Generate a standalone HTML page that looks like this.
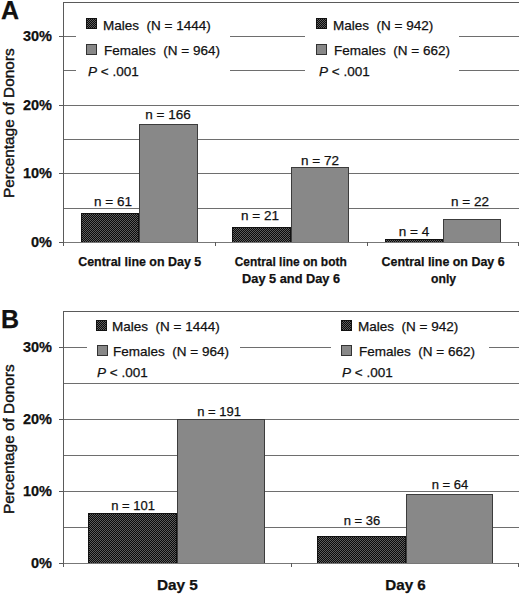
<!DOCTYPE html>
<html><head><meta charset="utf-8"><style>
html,body{margin:0;padding:0;background:#fff;}
svg{display:block;font-family:"Liberation Sans", sans-serif;}
text{stroke:#111;stroke-width:0.25px;}
</style></head><body>
<svg width="520" height="595" viewBox="0 0 520 595" shape-rendering="crispEdges">
<defs>
<pattern id="chk" width="2" height="2" patternUnits="userSpaceOnUse">
<rect width="2" height="2" fill="#0a0a0a"/><rect width="1" height="1" fill="#5c5c5c"/><rect x="1" y="1" width="1" height="1" fill="#5c5c5c"/>
</pattern>
</defs>
<rect width="520" height="595" fill="#fff"/>
<rect x="63" y="208" width="456" height="1" fill="#6e6e6e"/>
<rect x="63" y="173" width="456" height="1" fill="#6e6e6e"/>
<rect x="63" y="139" width="456" height="1" fill="#6e6e6e"/>
<rect x="63" y="105" width="456" height="1" fill="#6e6e6e"/>
<rect x="63" y="70" width="13" height="1" fill="#6e6e6e"/>
<rect x="230" y="70" width="75" height="1" fill="#6e6e6e"/>
<rect x="459" y="70" width="60" height="1" fill="#6e6e6e"/>
<rect x="63" y="36" width="13" height="1" fill="#6e6e6e"/>
<rect x="230" y="36" width="75" height="1" fill="#6e6e6e"/>
<rect x="459" y="36" width="60" height="1" fill="#6e6e6e"/>
<rect x="59" y="242" width="4" height="1" fill="#5a5a5a"/>
<rect x="59" y="173" width="4" height="1" fill="#5a5a5a"/>
<rect x="59" y="105" width="4" height="1" fill="#5a5a5a"/>
<rect x="59" y="36" width="4" height="1" fill="#5a5a5a"/>
<rect x="63" y="2" width="456" height="1" fill="#5a5a5a"/>
<rect x="81" y="213" width="58" height="29" fill="#111"/>
<rect x="82" y="214" width="56" height="28" fill="url(#chk)"/>
<rect x="139" y="124" width="59" height="118" fill="#3c3c3c"/>
<rect x="140" y="125" width="57" height="117" fill="#888"/>
<rect x="232" y="227" width="59" height="15" fill="#111"/>
<rect x="233" y="228" width="57" height="14" fill="url(#chk)"/>
<rect x="291" y="167" width="58" height="75" fill="#3c3c3c"/>
<rect x="292" y="168" width="56" height="74" fill="#888"/>
<rect x="385" y="239" width="58" height="3" fill="#111"/>
<rect x="386" y="240" width="56" height="2" fill="url(#chk)"/>
<rect x="443" y="219" width="58" height="23" fill="#3c3c3c"/>
<rect x="444" y="220" width="56" height="22" fill="#888"/>
<rect x="63" y="242" width="456" height="1" fill="#777"/>
<rect x="63" y="2" width="1" height="244" fill="#5a5a5a"/>
<rect x="215" y="242" width="1" height="4" fill="#5a5a5a"/>
<rect x="367" y="242" width="1" height="4" fill="#5a5a5a"/>
<rect x="518" y="242" width="1" height="4" fill="#5a5a5a"/>
<text x="113" y="206" font-size="13.5" font-weight="normal" text-anchor="middle" font-style="normal" fill="#111" >n = 61</text>
<text x="168" y="119" font-size="13.5" font-weight="normal" text-anchor="middle" font-style="normal" fill="#111" >n = 166</text>
<text x="260" y="220" font-size="13.5" font-weight="normal" text-anchor="middle" font-style="normal" fill="#111" >n = 21</text>
<text x="320" y="164.5" font-size="13.5" font-weight="normal" text-anchor="middle" font-style="normal" fill="#111" >n = 72</text>
<text x="414" y="236" font-size="13.5" font-weight="normal" text-anchor="middle" font-style="normal" fill="#111" >n = 4</text>
<text x="470" y="206" font-size="13.5" font-weight="normal" text-anchor="middle" font-style="normal" fill="#111" >n = 22</text>
<rect x="63" y="527" width="456" height="1" fill="#6e6e6e"/>
<rect x="63" y="491" width="456" height="1" fill="#6e6e6e"/>
<rect x="63" y="455" width="456" height="1" fill="#6e6e6e"/>
<rect x="63" y="419" width="456" height="1" fill="#6e6e6e"/>
<rect x="63" y="383" width="456" height="1" fill="#6e6e6e"/>
<rect x="63" y="347" width="24" height="1" fill="#6e6e6e"/>
<rect x="240" y="347" width="91" height="1" fill="#6e6e6e"/>
<rect x="489" y="347" width="30" height="1" fill="#6e6e6e"/>
<rect x="59" y="563" width="4" height="1" fill="#5a5a5a"/>
<rect x="59" y="491" width="4" height="1" fill="#5a5a5a"/>
<rect x="59" y="419" width="4" height="1" fill="#5a5a5a"/>
<rect x="59" y="347" width="4" height="1" fill="#5a5a5a"/>
<rect x="63" y="311" width="456" height="1" fill="#5a5a5a"/>
<rect x="88" y="513" width="89" height="50" fill="#111"/>
<rect x="89" y="514" width="87" height="49" fill="url(#chk)"/>
<rect x="177" y="419" width="88" height="144" fill="#3c3c3c"/>
<rect x="178" y="420" width="86" height="143" fill="#888"/>
<rect x="317" y="536" width="89" height="27" fill="#111"/>
<rect x="318" y="537" width="87" height="26" fill="url(#chk)"/>
<rect x="406" y="494" width="87" height="69" fill="#3c3c3c"/>
<rect x="407" y="495" width="85" height="68" fill="#888"/>
<rect x="63" y="563" width="456" height="1" fill="#777"/>
<rect x="63" y="311" width="1" height="256" fill="#5a5a5a"/>
<rect x="291" y="563" width="1" height="4" fill="#5a5a5a"/>
<rect x="518" y="563" width="1" height="4" fill="#5a5a5a"/>
<text x="133" y="509.5" font-size="13" font-weight="normal" text-anchor="middle" font-style="normal" fill="#111" >n = 101</text>
<text x="219" y="416" font-size="13" font-weight="normal" text-anchor="middle" font-style="normal" fill="#111" >n = 191</text>
<text x="362" y="525" font-size="13" font-weight="normal" text-anchor="middle" font-style="normal" fill="#111" >n = 36</text>
<text x="450" y="489" font-size="13" font-weight="normal" text-anchor="middle" font-style="normal" fill="#111" >n = 64</text>
<text x="52" y="247" font-size="14.5" font-weight="bold" text-anchor="end" font-style="normal" fill="#111" >0%</text>
<text x="52" y="178" font-size="14.5" font-weight="bold" text-anchor="end" font-style="normal" fill="#111" >10%</text>
<text x="52" y="110" font-size="14.5" font-weight="bold" text-anchor="end" font-style="normal" fill="#111" >20%</text>
<text x="52" y="41" font-size="14.5" font-weight="bold" text-anchor="end" font-style="normal" fill="#111" >30%</text>
<text x="52" y="568" font-size="14.5" font-weight="bold" text-anchor="end" font-style="normal" fill="#111" >0%</text>
<text x="52" y="496" font-size="14.5" font-weight="bold" text-anchor="end" font-style="normal" fill="#111" >10%</text>
<text x="52" y="424" font-size="14.5" font-weight="bold" text-anchor="end" font-style="normal" fill="#111" >20%</text>
<text x="52" y="352" font-size="14.5" font-weight="bold" text-anchor="end" font-style="normal" fill="#111" >30%</text>
<text x="1" y="19" font-size="25" font-weight="bold" text-anchor="start" font-style="normal" fill="#111" >A</text>
<text x="1" y="328" font-size="25" font-weight="bold" text-anchor="start" font-style="normal" fill="#111" >B</text>
<text x="0" y="0" font-size="15.4" font-weight="normal" text-anchor="start" font-style="normal" fill="#111" style="stroke-width:0.4px" transform="translate(14,198) rotate(-90)">Percentage of Donors</text>
<text x="0" y="0" font-size="15.4" font-weight="normal" text-anchor="start" font-style="normal" fill="#111" style="stroke-width:0.4px" transform="translate(14,514) rotate(-90)">Percentage of Donors</text>
<rect x="86" y="18" width="11" height="11" fill="#111"/>
<rect x="87" y="19" width="9" height="9" fill="url(#chk)"/>
<rect x="86" y="44" width="11" height="11" fill="#333"/>
<rect x="87" y="45" width="9" height="9" fill="#888"/>
<text x="103" y="30" font-size="13.5" font-weight="normal" text-anchor="start" font-style="normal" fill="#111" >Males&#160;&#160;(N = 1444)</text>
<text x="104" y="55" font-size="13.5" font-weight="normal" text-anchor="start" font-style="normal" fill="#111" >Females&#160;&#160;(N = 964)</text>
<text x="88" y="76" font-size="13.5" fill="#111"><tspan font-style="italic">P</tspan> &lt; .001</text>
<rect x="316" y="18" width="11" height="11" fill="#111"/>
<rect x="317" y="19" width="9" height="9" fill="url(#chk)"/>
<rect x="316" y="44" width="11" height="11" fill="#333"/>
<rect x="317" y="45" width="9" height="9" fill="#888"/>
<text x="333" y="30" font-size="13.5" font-weight="normal" text-anchor="start" font-style="normal" fill="#111" >Males&#160;&#160;(N = 942)</text>
<text x="334" y="55" font-size="13.5" font-weight="normal" text-anchor="start" font-style="normal" fill="#111" >Females&#160;&#160;(N = 662)</text>
<text x="319" y="76" font-size="13.5" fill="#111"><tspan font-style="italic">P</tspan> &lt; .001</text>
<rect x="96" y="320" width="11" height="11" fill="#111"/>
<rect x="97" y="321" width="9" height="9" fill="url(#chk)"/>
<rect x="97" y="345" width="11" height="11" fill="#333"/>
<rect x="98" y="346" width="9" height="9" fill="#888"/>
<text x="112" y="331" font-size="13.5" font-weight="normal" text-anchor="start" font-style="normal" fill="#111" >Males&#160;&#160;(N = 1444)</text>
<text x="113" y="356" font-size="13.5" font-weight="normal" text-anchor="start" font-style="normal" fill="#111" >Females&#160;&#160;(N = 964)</text>
<text x="97" y="376.5" font-size="13.5" fill="#111"><tspan font-style="italic">P</tspan> &lt; .001</text>
<rect x="341" y="320" width="11" height="11" fill="#111"/>
<rect x="342" y="321" width="9" height="9" fill="url(#chk)"/>
<rect x="341" y="345" width="11" height="11" fill="#333"/>
<rect x="342" y="346" width="9" height="9" fill="#888"/>
<text x="358" y="331" font-size="13.5" font-weight="normal" text-anchor="start" font-style="normal" fill="#111" >Males&#160;&#160;(N = 942)</text>
<text x="359" y="356" font-size="13.5" font-weight="normal" text-anchor="start" font-style="normal" fill="#111" >Females&#160;&#160;(N = 662)</text>
<text x="342" y="376.5" font-size="13.5" fill="#111"><tspan font-style="italic">P</tspan> &lt; .001</text>
<text x="139.7" y="266" font-size="13" font-weight="bold" text-anchor="middle" font-style="normal" fill="#111" textLength="123" lengthAdjust="spacingAndGlyphs">Central line on Day 5</text>
<text x="290.7" y="266" font-size="13" font-weight="bold" text-anchor="middle" font-style="normal" fill="#111" textLength="112" lengthAdjust="spacingAndGlyphs">Central line on both</text>
<text x="291.1" y="282.5" font-size="13" font-weight="bold" text-anchor="middle" font-style="normal" fill="#111" textLength="98" lengthAdjust="spacingAndGlyphs">Day 5 and Day 6</text>
<text x="443.1" y="266" font-size="13" font-weight="bold" text-anchor="middle" font-style="normal" fill="#111" textLength="123" lengthAdjust="spacingAndGlyphs">Central line on Day 6</text>
<text x="443.6" y="282.5" font-size="13" font-weight="bold" text-anchor="middle" font-style="normal" fill="#111" textLength="25" lengthAdjust="spacingAndGlyphs">only</text>
<text x="177.4" y="590" font-size="14.5" font-weight="bold" text-anchor="middle" font-style="normal" fill="#111" textLength="41" lengthAdjust="spacingAndGlyphs">Day 5</text>
<text x="405.5" y="590" font-size="14.5" font-weight="bold" text-anchor="middle" font-style="normal" fill="#111" textLength="40.5" lengthAdjust="spacingAndGlyphs">Day 6</text>
</svg>
</body></html>
